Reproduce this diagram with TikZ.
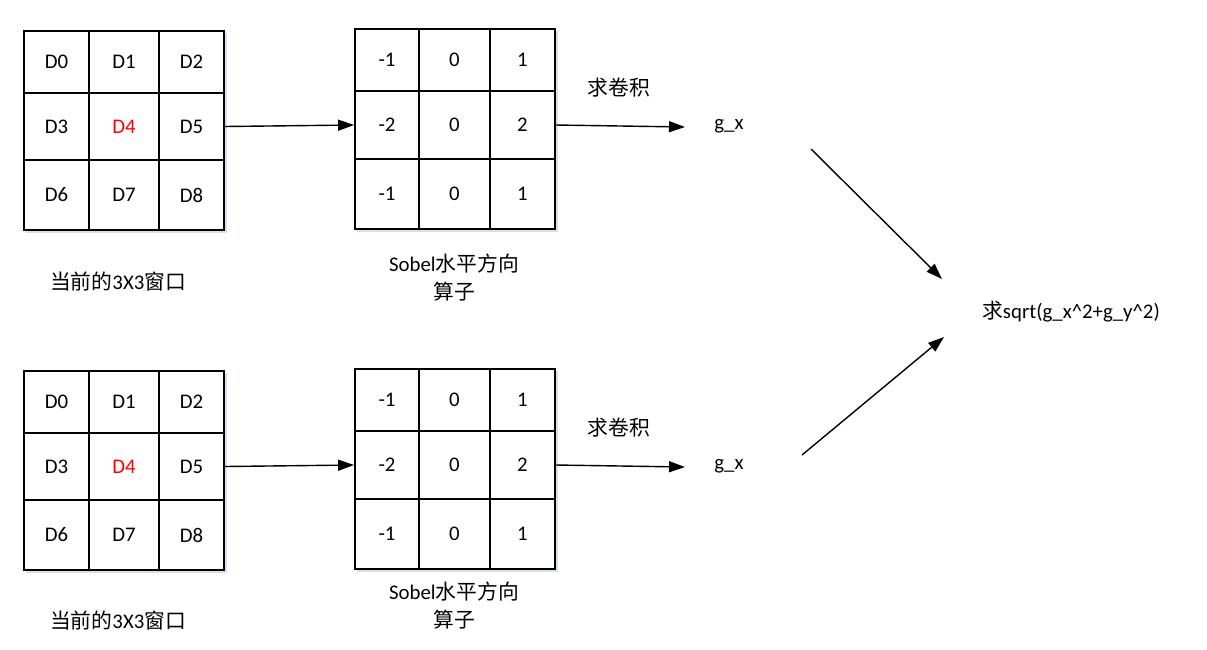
\documentclass[tikz,border=0pt]{standalone}
\usepackage{fontspec}
\setmainfont{Carlito}
\newfontfamily\cjk{Noto Sans CJK SC}
\usetikzlibrary{arrows.meta}

\tikzset{
  cell/.style={draw,line width=1.8pt,inner sep=0pt},
  arr/.style={line width=1.4pt,-{Triangle[length=16pt,width=11pt]}},
  gshadow/.style={draw={rgb,255:red,214;green,224;blue,236},line width=1.5pt}
}

\begin{document}
\begin{tikzpicture}[x=1pt,y=-1pt,font=\fontsize{20.8}{28}\selectfont]
        \useasboundingbox (0,0) rectangle (1207,649);
        % two rows: top (t) and bottom (b)
        \foreach \g/\oy in {t/0,b/340} {
          % faint shadows of the grids
          \draw[gshadow] (26,232+\oy) -- (226,232+\oy) -- (226,33+\oy);
          \draw[gshadow] (357,231+\oy) -- (557,231+\oy) -- (557,31+\oy);
          % current 3x3 window
          \foreach \yc/\h [count=\r from 0] in {62/62,126.5/67,195/70}
            \foreach \xc/\w [count=\c from 0] in {56.5/65,124/70,191.5/65} {
              \pgfmathtruncatemacro\i{3*\r+\c}
              \ifnum\i=4 \def\tcol{red}\else\def\tcol{black}\fi
              \node[cell,minimum width=\w pt,minimum height=\h pt,text=\tcol]
                (\g w\i) at (\xc,\yc+\oy) {D\i};
            }
          % sobel operator
          \foreach \yc/\h [count=\r from 0] in {60/62,125/68,194/70}
            \foreach \xc/\w [count=\c from 0] in {387/64,454.5/71,522.5/65} {
              \pgfmathtruncatemacro\i{3*\r+\c}
              \pgfmathtruncatemacro\v{{-1,0,1,-2,0,2,-1,0,1}[\i]}
              \node[cell,minimum width=\w pt,minimum height=\h pt]
                (\g s\i) at (\xc,\yc+\oy) {\v};
            }
          \node (\g conv) at (619,88+\oy) {{\cjk 求卷积}};
          \node (\g gx) at (729,126+\oy) {g\_x};
          \coordinate (\g gxin) at (685,127+\oy);
          \draw[arr] (\g w5.east) -- (\g s3.west);
          \draw[arr] (\g s5.east) -- (\g gxin);
        }
        % captions
        \node (tcap) at (118,282) {{\cjk 当前的}3X3{\cjk 窗口}};
        \node (bcap) at (118,621) {{\cjk 当前的}3X3{\cjk 窗口}};
        \node[align=center] (tsob) at (454,278) {Sobel{\cjk 水平方向}\\{\cjk 算子}};
        \node[align=center] (bsob) at (454,606) {Sobel{\cjk 水平方向}\\{\cjk 算子}};
        % result
        \node (res) at (1071,312) {{\cjk 求}sqrt(g\_x\textasciicircum 2+g\_y\textasciicircum 2)};
        \coordinate (tdia) at (811,149);
        \coordinate (tend) at (942,279);
        \coordinate (bdia) at (802,455);
        \coordinate (bend) at (944,337);
        \draw[arr] (tdia) -- (tend);
        \draw[arr] (bdia) -- (bend);
\end{tikzpicture}
\end{document}
